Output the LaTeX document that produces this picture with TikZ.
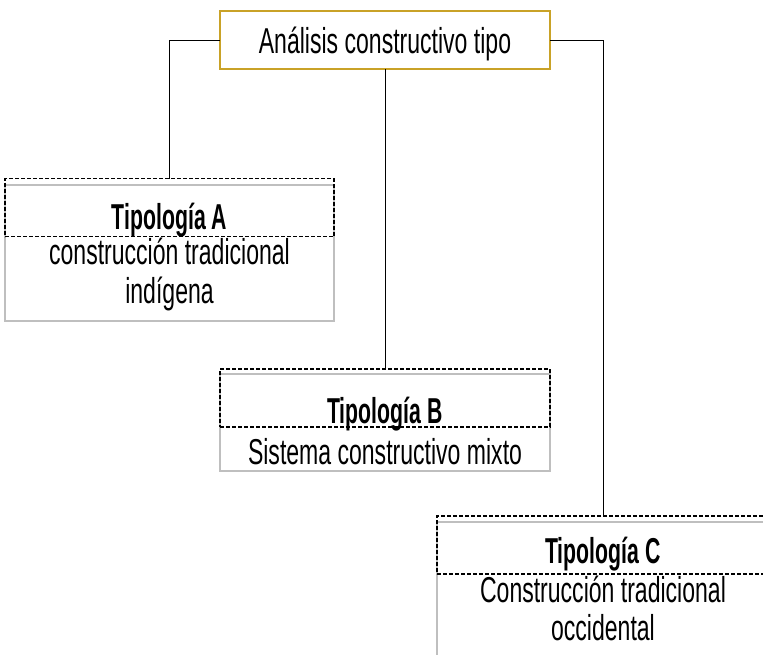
\documentclass[tikz,border=0pt]{standalone}
\usepackage{fontspec}
\newfontfamily\cf[FakeStretch=0.64]{Liberation Sans}
\newfontfamily\cfb[FakeStretch=0.59]{Liberation Sans}
\definecolor{gold}{HTML}{C9A227}
\definecolor{boxgray}{HTML}{BFBFBF}
\tikzset{
  x=1pt,y=-1pt,
  topbox/.style={draw=gold,line width=1.4pt,fill=white,inner sep=0pt,outer sep=0pt,minimum width=330pt,minimum height=58pt},
  body/.style={draw=boxgray,line width=1.3pt,inner sep=0pt,outer sep=0pt},
  hdr/.style={draw=black,dash pattern=on 4pt off 2pt,line width=1.1pt,inner sep=0pt,outer sep=0pt},
  conn/.style={draw=black,line width=0.9pt},
  ttl/.style={font=\cfb\bfseries\fontsize{36}{40}\selectfont,anchor=base,inner sep=0pt},
  txt/.style={font=\cf\fontsize{36}{40}\selectfont,anchor=base,inner sep=0pt}
}
\begin{document}
\begin{tikzpicture}
\useasboundingbox (0,0) rectangle (763,654);
\clip (0,0) rectangle (763,654);
% top box
\node[topbox] (top) at (385,40) {};
\node[txt] (toptxt) at (385,53) {Análisis constructivo tipo};
% Tipologia A
\node[body,minimum width=329pt,minimum height=136pt] (ab) at (169.5,253) {};
\node[hdr,minimum width=329pt,minimum height=58pt] (ah) at (169.5,207.5) {};
\node[ttl] (at) at (169.5,229) {Tipología A};
\node[txt] (a1) at (169.5,264) {construcción tradicional};
\node[txt] (a2) at (169.5,303) {indígena};
% Tipologia B
\node[body,minimum width=330pt,minimum height=97pt] (bb) at (385,422.5) {};
\node[hdr,minimum width=330pt,minimum height=58pt] (bh) at (385,398) {};
\node[ttl] (bt) at (385,423) {Tipología B};
\node[txt] (b1) at (385,464) {Sistema constructivo mixto};
% Tipologia C
\node[body,minimum width=332pt,minimum height=160pt] (cb) at (603,602) {};
\node[hdr,minimum width=332pt,minimum height=58pt] (ch) at (603,545) {};
\node[ttl] (ct) at (603,563) {Tipología C};
\node[txt] (c1) at (603,602) {Construcción tradicional};
\node[txt] (c2) at (603,640) {occidental};
% connectors
\draw[conn] (top.west) -| (ah.north);
\draw[conn] (top.south) -- (bh.north);
\draw[conn] (top.east) -| (ch.north);
\end{tikzpicture}
\end{document}
